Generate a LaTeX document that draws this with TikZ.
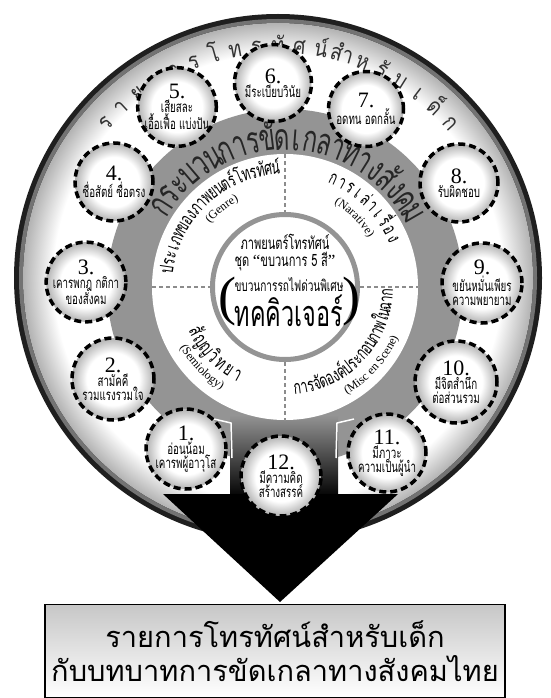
\documentclass[tikz,border=0pt]{standalone}
\usepackage{fontspec}
\setmainfont{Liberation Serif}
\newfontfamily\thai[Script=Thai]{Loma}
\newfontfamily\thaic[Script=Thai,FakeStretch=0.85]{Loma}
\newfontfamily\thaicc[Script=Thai,FakeStretch=0.65]{Loma}
\usetikzlibrary{calc,decorations.text}
\definecolor{band}{gray}{0.58}
\pgfdeclareradialshading{glow}{\pgfpoint{0bp}{0bp}}{color(0bp)=(white); color(16bp)=(white); color(25bp)=(black!30); color(50bp)=(black!30)}
\pgfdeclareradialshading{bigglow}{\pgfpoint{0bp}{0bp}}{color(0bp)=(white); color(22bp)=(white); color(25bp)=(black!30); color(50bp)=(black!30)}
\newcount\acccount
% #1 centre, #2 baseline radius, #3 mid angle, #4 span (deg), #5 dir (1 top, -1 bottom), #6 font, #7 clusters
\newcommand\ArcText[7]{%
  \xdef\arcaccg{0}%
  \global\acccount=0\relax
  \foreach \arcch in {#7}{%
    \setbox0=\hbox{#6\arcch}%
    \edef\arcw{\the\wd0}%
    \pgfmathsetmacro\arcacc{\arcaccg+\arcw}%
    \xdef\arcaccg{\arcacc}%
    \global\advance\acccount by 1\relax
  }%
  \edef\arcn{\the\acccount}%
  \pgfmathsetmacro\arcgap{((#4)*pi/180*(#2) - \arcaccg)/max(\arcn-1,1)}%
  \pgfmathsetmacro\arcstartv{(#3) + (#5)*(#4)/2}%
  \xdef\arcposg{\arcstartv}%
  \foreach \arcch in {#7}{%
    \setbox0=\hbox{#6\arcch}%
    \edef\arcw{\the\wd0}%
    \pgfmathsetmacro\arcmid{\arcposg - (#5)*(\arcw/(#2))*90/pi}%
    \pgfmathsetmacro\arcrot{\arcmid - (#5)*90}%
    \pgfmathsetmacro\arcx{(#2)*cos(\arcmid)}%
    \pgfmathsetmacro\arcy{-(#2)*sin(\arcmid)}%
    \node[anchor=base, inner sep=0pt, outer sep=0pt, rotate=\arcrot] at ($(#1)+(\arcx,\arcy)$) {#6\arcch};
    \pgfmathsetmacro\arcnext{\arcposg - (#5)*((\arcw + \arcgap)/(#2))*180/pi}%
    \xdef\arcposg{\arcnext}%
  }%
}
% Latin text along an arc: #1 centre, #2 radius, #3 start angle, #4 end angle (visual degrees), #5 text
\newcommand\ArcLatin[5]{%
  \path[decorate, decoration={text along path, text align=center,
      text={|\rmfamily\fontsize{12}{12}\selectfont|#5}}]
    ($(#1)+({(#2)*cos(#3)},{-(#2)*sin(#3)})$) arc[start angle={-(#3)}, end angle={-(#4)}, radius=#2];
}
\tikzset{
  dcirc/.style={circle, draw=black, line width=3.5pt, dash pattern=on 7pt off 4pt,
    shading=glow, inner sep=0pt, align=center,
    font=\thaicc\fontsize{15}{14}\selectfont},
  dashln/.style={draw=black!45, line width=1.2pt, dash pattern=on 4pt off 3pt},
  ctext/.style={inner sep=0pt, font=\thaicc\fontsize{17}{17}\selectfont},
  botbox/.style={draw=black, line width=1.5pt, top color=black!22, bottom color=white,
    minimum width=460pt, minimum height=93pt, align=center,
    font=\thai\fontsize{29}{34}\selectfont}
}
\newcommand\num[1]{{\rmfamily\fontsize{22}{22}\selectfont #1}}
\begin{document}
\begin{tikzpicture}[x=1pt,y=-1pt]
\useasboundingbox (0,0) rectangle (550,698);
\fill[white] (0,0) rectangle (550,698);
\coordinate (C) at (278,278);
\coordinate (O) at (285,287);
% outer ring
\fill[black!88] (C) circle[radius=264];
\fill[black!55] (C) circle[radius=259];
\fill[shading=bigglow] (C) circle[radius=255];
% outer ring text
\ArcText{C}{225}{90}{96}{1}{\thaic\fontsize{23}{23}\selectfont\color{black!80}}{ร,า,ย,ก,า,ร,โ,ท,ร,ทั,ศ,น์,สำ,ห,รั,บ,เ,ด็,ก}
% grey band and arrow stem
\fill[band] (O) circle[radius=178];
\fill[top color=band, bottom color=black] (230,415) rectangle (338,498);
\draw[white, line width=1.5pt] (214,419) -- (231,423) -- (232,458);
\draw[white, line width=1.5pt] (354,419) -- (337,423) -- (336,458);
\fill[black] (163,494) -- (398,494) -- (280,602) -- cycle;
% band text
\ArcText{O}{137}{88.5}{117}{1}{\thaicc\fontsize{37}{37}\selectfont\color{black!85}}{ก,ร,ะ,บ,ว,น,ก,า,ร,ขั,ด,เ,ก,ล,า,ท,า,ง,สั,ง,ค,ม}
% white disc
\fill[white] (O) circle[radius=133];
\draw[dashln] ($(O)+(-133,0)$) -- ($(O)+(-75,0)$);
\draw[dashln] ($(O)+(75,0)$) -- ($(O)+(133,0)$);
\draw[dashln] ($(O)+(0,-133)$) -- ($(O)+(0,-75)$);
\draw[dashln] ($(O)+(0,75)$) -- ($(O)+(0,133)$);
\draw[black!42, line width=5pt] (O) circle[radius=72.5];
% quadrant texts
\ArcText{O}{113}{133}{77}{1}{\thaicc\fontsize{19}{19}\selectfont}{ป,ร,ะ,เ,ภ,ท,ข,อ,ง,ภ,า,พ,ย,น,ต,ร์,โ,ท,ร,ทั,ศ,น์}
\ArcLatin{O}{98}{160}{98}{(Genre)}
\ArcText{O}{113}{45}{42}{1}{\thaicc\fontsize{19}{19}\selectfont}{ก,า,ร,เ,ล่,า,เ,รื่,อ,ง}
\ArcLatin{O}{97}{76}{14}{(Narative)}
\ArcText{O}{106}{224}{35}{-1}{\thaicc\fontsize{20}{20}\selectfont}{สั,ญ,ญ,วิ,ท,ย,า}
\ArcLatin{O}{121}{194}{254}{(Semiology)}
\ArcText{O}{108}{317}{80}{-1}{\thaicc\fontsize{19}{19}\selectfont}{ก,า,ร,จั,ด,อ,ง,ค์,ป,ร,ะ,ก,อ,บ,ภ,า,พ,ใ,น,ฉ,า,ก}
\ArcLatin{O}{124}{283}{353}{(Misc en Scene)}
% centre text
\node[ctext] (t1) at (285,242) {ภาพยนตร์โทรทัศน์};
\node[ctext] (t2) at (285,262) {ชุด {\rmfamily“}ขบวนการ 5 สี{\rmfamily”}};
\node[ctext, font=\thaicc\fontsize{15.5}{16}\selectfont] (t3) at (289,285) {ขบวนการรถไฟด่วนพิเศษ};
\node[ctext, font=\thaicc\fontsize{36}{36}\selectfont] (t4) at (289,311) {ทคคิวเจอร์};
\node[inner sep=0pt, font=\rmfamily\fontsize{54}{54}\selectfont] (lp) at (227,302) {(};
\node[inner sep=0pt, font=\rmfamily\fontsize{54}{54}\selectfont] (rp) at (351,302) {)};
% value circles
\node[dcirc, minimum size=80pt] (c1) at (186,449) {\num{1.}\\อ่อนน้อม\\เคารพผู้อาวุโส};
\node[dcirc, minimum size=82pt] (c2) at (113,379) {\num{2.}\\สามัคคี\\รวมแรงรวมใจ};
\node[dcirc, minimum size=78pt] (c3) at (86,282) {\num{3.}\\เคารพกฎ กติกา\\ของสังคม};
\node[dcirc, minimum size=78pt] (c4) at (114,182) {\num{4.}\\ซื่อสัตย์ ซื่อตรง};
\node[dcirc, minimum size=75pt] (c5) at (177,107) {\num{5.}\\เสียสละ\\เอื้อเฟื้อ แบ่งปัน};
\node[dcirc, minimum size=77pt] (c6) at (273,83) {\num{6.}\\มีระเบียบวินัย};
\node[dcirc, minimum size=75pt] (c7) at (366,109) {\num{7.}\\อดทน อดกลั้น};
\node[dcirc, minimum size=78pt] (c8) at (459,183) {\num{8.}\\รับผิดชอบ};
\node[dcirc, minimum size=80pt] (c9) at (482,283) {\num{9.}\\ขยันหมั่นเพียร\\ความพยายาม};
\node[dcirc, minimum size=82pt] (c10) at (456,382) {\num{10.}\\มีจิตสำนึก\\ต่อส่วนรวม};
\node[dcirc, minimum size=78pt] (c11) at (387,453) {\num{11.}\\มีภาวะ\\ความเป็นผู้นำ};
\node[dcirc, minimum size=80pt] (c12) at (281,476) {\num{12.}\\มีความคิด\\สร้างสรรค์};
% bottom box
\node[botbox] (box) at (275,651) {รายการโทรทัศน์สำหรับเด็ก\\กับบทบาทการขัดเกลาทางสังคมไทย};
\end{tikzpicture}
\end{document}
